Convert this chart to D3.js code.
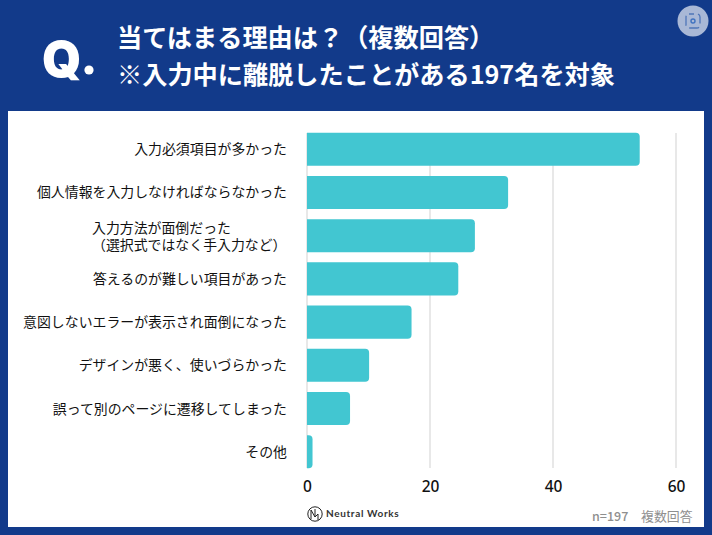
<!DOCTYPE html>
<html>
<head>
<meta charset="utf-8">
<script src="https://cdn.jsdelivr.net/npm/d3@7"></script>
<style>
  html, body { margin: 0; padding: 0; background: #123a8a; }
  svg { display: block; }
  text { font-family: "Noto Sans CJK JP", "Noto Sans", sans-serif; }
</style>
</head>
<body>
<div id="chart"></div>
<script>
// values
var categories = [
  ['入力必須項目が多かった'],
  ['個人情報を入力しなければならなかった'],
  ['入力方法が面倒だった', '（選択式ではなく手入力など）'],
  ['答えるのが難しい項目があった'],
  ['意図しないエラーが表示され面倒になった'],
  ['デザインが悪く、使いづらかった'],
  ['誤って別のページに遷移してしまった'],
  ['その他']
]
var values = [54.1, 32.7, 27.3, 24.6, 17, 10.1, 7, 0.9]
var xTicks = [0, 20, 40, 60]
var titleLines = ['当てはまる理由は？（複数回答）', '※入力中に離脱したことがある197名を対象']

var width = 712
var height = 535
var navy = '#123a8a'
var teal = '#42c6d1'

var svg = d3.select('#chart').append('svg')
  .attr('width', width)
  .attr('height', height)
  .style('background-color', navy)

// white panel
svg.append('rect')
  .attr('x', 8).attr('y', 111)
  .attr('width', 696).attr('height', 416)
  .attr('fill', '#fff')

// header
svg.append('text')
  .attr('x', 42).attr('y', 77)
  .style('font-family', 'Inter, "Noto Sans", sans-serif')
  .attr('font-size', 50)
  .attr('font-weight', 900)
  .attr('fill', '#fff')
  .text('Q')
svg.append('circle')
  .attr('cx', 89).attr('cy', 70).attr('r', 4.6)
  .attr('fill', '#fff')

svg.selectAll('.title')
  .data(titleLines)
  .join('text')
  .attr('class', 'title')
  .attr('x', 117)
  .attr('y', function (d, i) { return 47 + i * 37 })
  .attr('font-size', 25.2)
  .attr('font-weight', 700)
  .attr('fill', '#fff')
  .text(function (d) { return d })

// round screenshot badge, top right
var badge = svg.append('g').attr('transform', 'translate(693,21)')
badge.append('circle').attr('r', 15.5).attr('fill', '#a9b8d6')
badge.append('rect')
  .attr('x', -7).attr('y', -7).attr('width', 14).attr('height', 14).attr('rx', 3)
  .attr('fill', 'none').attr('stroke', '#4f76b8').attr('stroke-width', 1.3)
  .attr('stroke-dasharray', '5 4 5 0')
badge.append('circle').attr('r', 2).attr('fill', 'none')
  .attr('stroke', '#3f72c0').attr('stroke-width', 1.4)

// scales
var x = d3.scaleLinear().domain([0, 60]).range([307, 676])
var y = d3.scaleBand()
  .domain(d3.range(categories.length))
  .range([127.5, 473.5])
  .paddingInner(0.235)
  .paddingOuter(0.12)

// grid
svg.selectAll('.grid')
  .data(xTicks)
  .join('line')
  .attr('class', 'grid')
  .attr('x1', function (d) { return x(d) })
  .attr('x2', function (d) { return x(d) })
  .attr('y1', 133)
  .attr('y2', 468)
  .attr('stroke', '#d9d9d9')
  .attr('stroke-width', 1.2)

// bars, rounded on the right side only
function barPath(d, i) {
  var x0 = x(0)
  var x1 = x(d)
  var y0 = y(i)
  var h = y.bandwidth()
  var r = Math.min(4, x1 - x0)
  return 'M' + x0 + ',' + y0 +
    'H' + (x1 - r) +
    'Q' + x1 + ',' + y0 + ' ' + x1 + ',' + (y0 + r) +
    'V' + (y0 + h - r) +
    'Q' + x1 + ',' + (y0 + h) + ' ' + (x1 - r) + ',' + (y0 + h) +
    'H' + x0 + 'Z'
}
svg.selectAll('.bar')
  .data(values)
  .join('path')
  .attr('class', 'bar')
  .attr('d', barPath)
  .attr('fill', teal)

// category labels
var labels = svg.selectAll('.cat')
  .data(categories)
  .join('text')
  .attr('class', 'cat')
  .attr('font-size', 13.9)
  .attr('font-weight', 400)
  .attr('fill', '#111')
labels.each(function (lines, i) {
  var cy = y(i) + y.bandwidth() / 2
  var sel = d3.select(this)
  if (lines.length === 1) {
    sel.append('tspan')
      .attr('x', 287).attr('y', cy + 5)
      .attr('text-anchor', 'end')
      .text(lines[0])
  } else {
    // the two line label sits left aligned, second line pushed in by its bracket
    lines.forEach(function (l, j) {
      sel.append('tspan')
        .attr('x', 92)
        .attr('y', cy - 3 + j * 17)
        .text(l)
    })
  }
})

// x axis
var xAxis = d3.axisBottom(x).tickValues(xTicks).tickSize(0).tickPadding(0)
var axisG = svg.append('g')
  .attr('transform', 'translate(0,481)')
  .call(xAxis)
axisG.select('.domain').remove()
axisG.selectAll('text')
  .attr('font-size', 15.5)
  .attr('font-weight', 500)
  .attr('fill', '#111')
  .style('font-family', '"Noto Sans", sans-serif')

// footer
var logo = svg.append('g').attr('transform', 'translate(315,514)')
logo.append('circle').attr('r', 7.2).attr('fill', 'none').attr('stroke', '#222').attr('stroke-width', 1)
logo.append('path')
  .attr('d', 'M-4,-4V5M-4,-4L0,3V-5M0,3L3,0V6')
  .attr('fill', 'none').attr('stroke', '#222').attr('stroke-width', 1)
svg.append('text')
  .attr('x', 326).attr('y', 517)
  .attr('font-size', 10)
  .attr('font-weight', 700)
  .attr('fill', '#333')
  .style('font-family', 'Lato, "Noto Sans", sans-serif')
  .attr('letter-spacing', 0.65)
  .text('Neutral Works')
svg.append('text')
  .attr('x', 592).attr('y', 521)
  .attr('font-size', 12.5)
  .attr('font-weight', 500)
  .attr('fill', '#8f8f8f')
  .text('n=197')
svg.append('text')
  .attr('x', 641).attr('y', 521)
  .attr('font-size', 12.9)
  .attr('fill', '#8f8f8f')
  .text('複数回答')
</script>
</body>
</html>
